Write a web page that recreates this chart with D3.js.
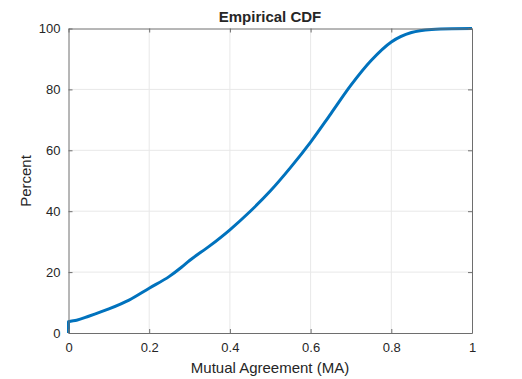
<!DOCTYPE html>
<html><head><meta charset="utf-8">
<script src="https://cdn.jsdelivr.net/npm/d3@7"></script>
<style>body{margin:0;background:#fff}svg{display:block}text{font-family:"Liberation Sans",Arial,sans-serif;fill:#262626}</style>
</head><body><svg id="c" width="522" height="379"></svg>
<script>
const maValues = [0,0,0.02,0.05,0.1,0.15,0.2,0.25,0.28,0.3,0.35,0.4,0.45,0.5,0.55,0.6,0.65,0.7,0.75,0.8,0.85,0.9,0.95,1.0];
const percentValues = [0,3.7,4.2,5.5,7.9,10.8,14.7,18.6,21.6,23.8,28.6,33.9,39.9,46.6,54.3,62.7,72,81.4,89.5,95.6,98.7,99.7,99.95,100];
const xTicks = [0,0.2,0.4,0.6,0.8,1];
const yTicks = [0,20,40,60,80,100];

const svg = d3.select('#c');
const L=68.5,R=472,T=28.5,B=333;
const x = d3.scaleLinear().domain([0,1]).range([L,R]);
const y = d3.scaleLinear().domain([0,100]).range([B,T]);

// grid
svg.append('g').selectAll('line').data(xTicks.slice(1,-1)).join('line')
  .attr('x1',d=>x(d)).attr('x2',d=>x(d)).attr('y1',T).attr('y2',B)
  .attr('stroke','#e8e8e8').attr('stroke-width',1);
svg.append('g').selectAll('line').data(yTicks.slice(1,-1)).join('line')
  .attr('y1',d=>y(d)).attr('y2',d=>y(d)).attr('x1',L).attr('x2',R)
  .attr('stroke','#e8e8e8').attr('stroke-width',1);

// curve
const pts = maValues.map((v,i)=>[v,percentValues[i]]);
svg.append('path').datum(pts)
  .attr('d',d3.line().x(d=>x(d[0])).y(d=>y(d[1])).curve(d3.curveMonotoneX))
  .attr('fill','none').attr('stroke','#0072BD').attr('stroke-width',3).attr('stroke-linejoin','round');

// axes
const ax = (g)=>{g.selectAll('.domain').attr('stroke','#6e6e6e');g.selectAll('.tick line').attr('stroke','#6e6e6e');g.selectAll('text').attr('fill','#262626').style('font-size','13px').style('font-family','"Liberation Sans",Arial,sans-serif');};
svg.append('g').attr('transform',`translate(0,${B})`)
  .call(d3.axisBottom(x).tickValues(xTicks).tickFormat(d3.format('')).tickSizeInner(-4).tickSizeOuter(0).tickPadding(10)).call(ax);
svg.append('g').attr('transform',`translate(0,${T})`)
  .call(d3.axisTop(x).tickValues(xTicks).tickFormat('').tickSizeInner(-4).tickSizeOuter(0)).call(ax);
svg.append('g').attr('transform',`translate(${L},0)`)
  .call(d3.axisLeft(y).tickValues(yTicks).tickSizeInner(-4).tickSizeOuter(0).tickPadding(8)).call(ax);
svg.append('g').attr('transform',`translate(${R},0)`)
  .call(d3.axisRight(y).tickValues(yTicks).tickFormat('').tickSizeInner(-4).tickSizeOuter(0)).call(ax);

svg.append('text').attr('x',270).attr('y',22).attr('text-anchor','middle')
  .style('font-size','15px').style('font-weight','bold').attr('fill','#000').text('Empirical CDF');
svg.append('text').attr('x',270).attr('y',373).attr('text-anchor','middle')
  .style('font-size','15px').text('Mutual Agreement (MA)');
svg.append('text').attr('transform','translate(31,181) rotate(-90)').attr('text-anchor','middle')
  .style('font-size','15px').text('Percent');
</script></body></html>
